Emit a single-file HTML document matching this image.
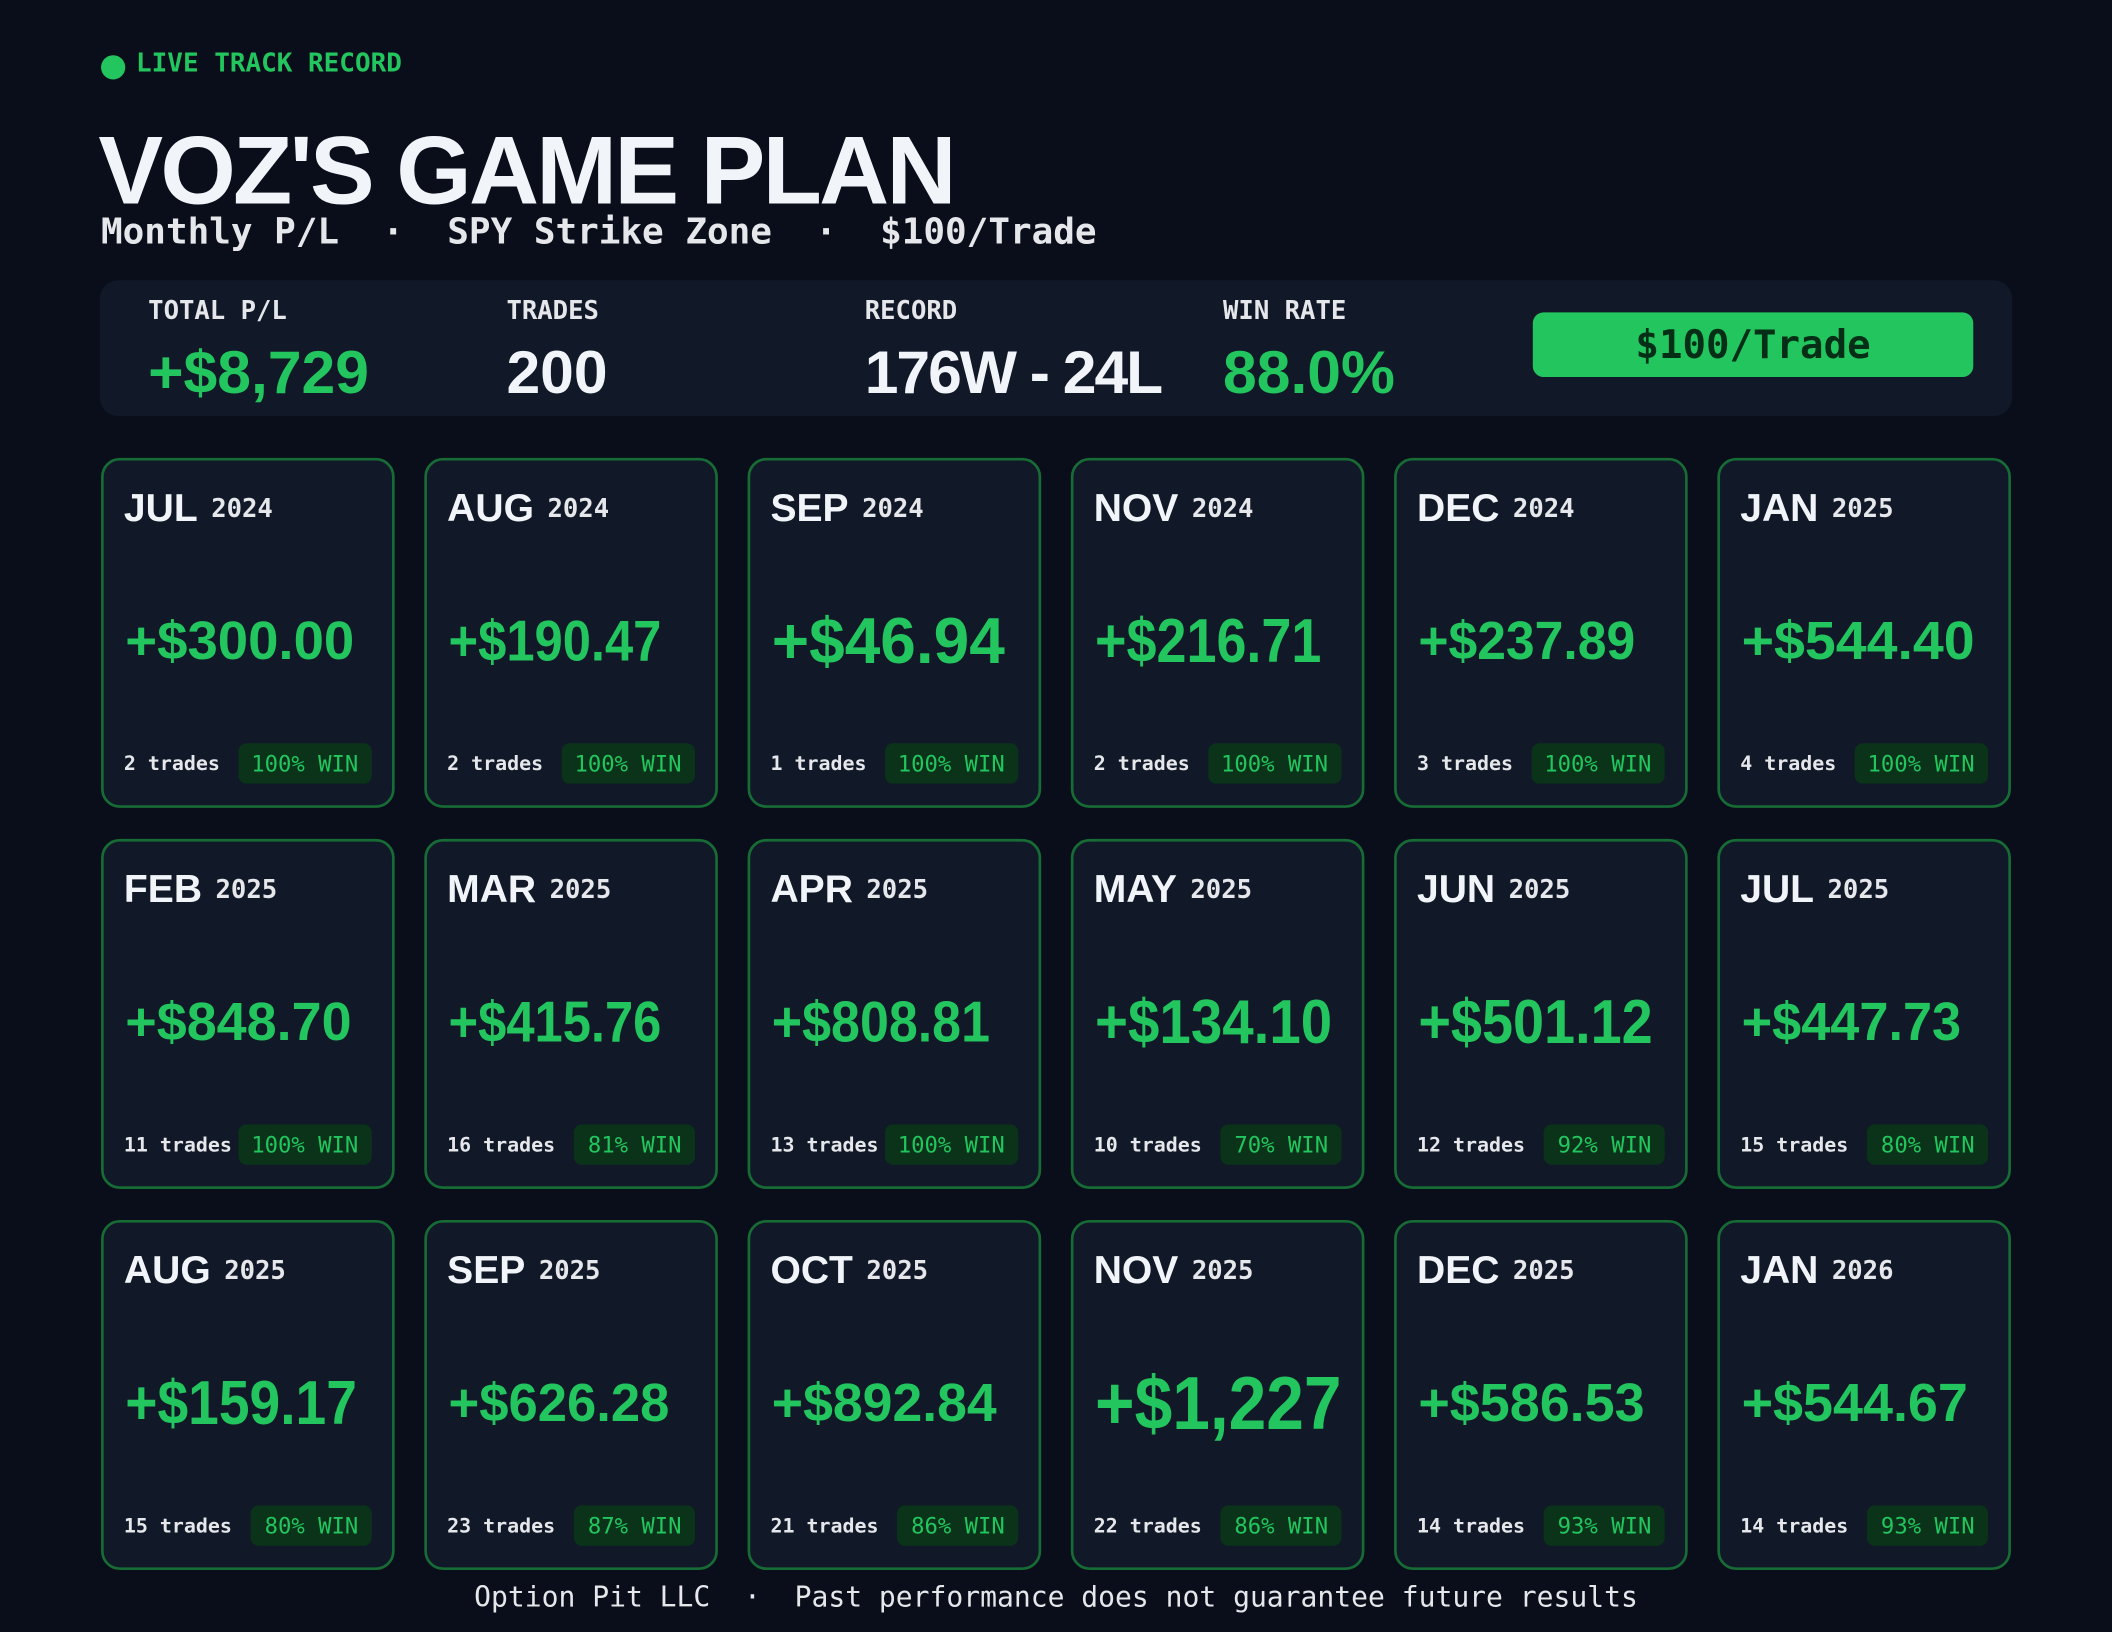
<!DOCTYPE html>
<html><head><meta charset="utf-8"><style>
html,body{margin:0;padding:0;background:#0a0e1a;width:2112px;height:1632px;overflow:hidden}
#s{position:absolute;left:0;top:0;width:1568px;height:1212px;transform:scale(1.346939,1.34653);transform-origin:0 0;background:#0a0e1a;color:#f1f5f9}
.m{font-family:"DejaVu Sans Mono","Liberation Mono",monospace}
.sa{font-family:"Liberation Sans",sans-serif}
.a{position:absolute;white-space:nowrap}
.card{position:absolute;width:214px;height:256px;border:2.5px solid #176b35;border-radius:14px;background:#111827;box-sizing:content-box}
.mon{position:absolute;left:15px;top:20px;font:bold 29px "Liberation Sans",sans-serif;color:#f1f5f9;white-space:nowrap}
.mon span{font:bold 19px "DejaVu Sans Mono",monospace;margin-left:10px;position:relative;top:-3px;color:#e5e7eb}
.tr{position:absolute;left:15px;top:217px;font:bold 14.8px "DejaVu Sans Mono",monospace;color:#e5e7eb}
.bd{position:absolute;right:15px;top:210px;height:30px;display:flex;align-items:center;padding:0 10px;border-radius:6px;background:#0a3319;color:#22c55e;font:16.5px "DejaVu Sans Mono",monospace}
.sv{position:absolute;left:0;top:0}
.lab{position:absolute;top:220px;font:bold 19px "DejaVu Sans Mono",monospace;color:#e5e7eb}
.val{position:absolute;top:251px;font:bold 45px "Liberation Sans",sans-serif}
</style></head><body><div id="s">
<div class="a" style="left:75px;top:41px;width:18px;height:18px;border-radius:50%;background:#22c55e"></div>
<div class="a m" style="left:101px;top:35px;font-size:19.3px;font-weight:bold;color:#22c55e">LIVE TRACK RECORD</div>
<div class="a sa" style="left:73px;top:86px;font-size:72px;font-weight:bold;letter-spacing:-2px;color:#f1f5f9">VOZ'S GAME PLAN</div>
<div class="a m" style="left:75px;top:157px;font-size:26.7px;font-weight:bold;color:#e5e7eb;white-space:pre">Monthly P/L  ·  SPY Strike Zone  ·  $100/Trade</div>
<div class="a" style="left:74px;top:208px;width:1420px;height:101px;border-radius:14px;background:#111827"></div>
<div class="lab" style="left:110px">TOTAL P/L</div>
<div class="lab" style="left:376px">TRADES</div>
<div class="lab" style="left:642px">RECORD</div>
<div class="lab" style="left:908px">WIN RATE</div>
<div class="val" style="left:110px;color:#22c55e">+$8,729</div>
<div class="val" style="left:376px;color:#f1f5f9">200</div>
<div class="val" style="left:642px;color:#f1f5f9;letter-spacing:-1.5px">176W - 24L</div>
<div class="val" style="left:908px;color:#22c55e">88.0%</div>
<div class="a m" style="left:1138px;top:232px;width:327px;height:48px;line-height:48px;border-radius:8px;background:#22c55e;color:#052e16;font-size:29px;font-weight:bold;text-align:center">$100/Trade</div>
<div id="g"></div>
<div class="a m" style="left:0;width:1568px;text-align:center;top:1174px;font-size:20.8px;color:#e5e7eb;white-space:pre">Option Pit LLC  ·  Past performance does not guarantee future results</div>
</div>
<script>
var d=[["JUL","2024","+$300.00",170,2,"100%"],["AUG","2024","+$190.47",158,2,"100%"],["SEP","2024","+$46.94",173,1,"100%"],["NOV","2024","+$216.71",168,2,"100%"],["DEC","2024","+$237.89",161,3,"100%"],["JAN","2025","+$544.40",173,4,"100%"],
["FEB","2025","+$848.70",168,11,"100%"],["MAR","2025","+$415.76",158,16,"81%"],["APR","2025","+$808.81",162,13,"100%"],["MAY","2025","+$134.10",176,10,"70%"],["JUN","2025","+$501.12",174,12,"92%"],["JUL","2025","+$447.73",163,15,"80%"],
["AUG","2025","+$159.17",172,15,"80%"],["SEP","2025","+$626.28",164,23,"87%"],["OCT","2025","+$892.84",167,21,"86%"],["NOV","2025","+$1,227",183,22,"86%"],["DEC","2025","+$586.53",168,14,"93%"],["JAN","2026","+$544.67",168,14,"93%"]];
var h="";
d.forEach(function(c,i){var col=i%6,row=Math.floor(i/6);var x=75+col*240,y=340+row*283;
var ones=(c[2].match(/1/g)||[]).length;var n=c[2].length;
var fs=n<=7?(c[2].indexOf(",")>0?56:48):(40+ones*3);if(fs>56)fs=56;
h+='<div class="card" style="left:'+x+'px;top:'+y+'px"><svg class="sv" width="214" height="256"><text x="16" y="'+(133+fs*0.36)+'" font-family="Liberation Sans,sans-serif" font-weight="bold" font-size="'+fs+'" fill="#22c55e" textLength="'+c[3]+'" lengthAdjust="spacingAndGlyphs">'+c[2]+'</text></svg><div class="mon">'+c[0]+'<span>'+c[1]+'</span></div><div class="tr">'+c[4]+' trades</div><div class="bd">'+c[5]+' WIN</div></div>';});
document.getElementById("g").innerHTML=h;
</script>
</body></html>
